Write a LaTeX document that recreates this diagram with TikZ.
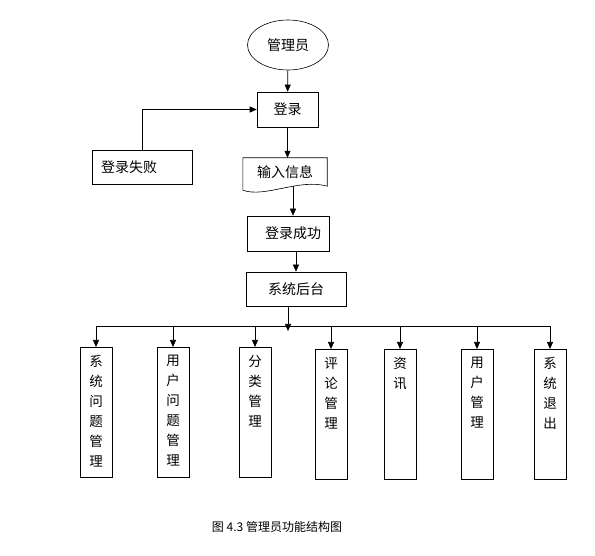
\documentclass[tikz,border=0pt]{standalone}
\usepackage{fontspec}
\setmainfont{Noto Sans CJK SC}
\usepackage{tikz}
\usetikzlibrary{shapes.geometric, arrows.meta, positioning}

% vertical text for the module boxes
\newcommand{\coltext}[1]{\parbox[c][124pt][t]{22pt}{\centering\fontsize{13.5pt}{20pt}\selectfont\vspace*{5pt}#1}}

\begin{document}
\begin{tikzpicture}[x=1pt, y=-1pt,
        flow/.style={-{Triangle[length=7pt, width=6pt]}, line width=0.6pt},
        stepbox/.style={draw, line width=0.6pt, minimum height=35pt, inner sep=0pt, font=\fontsize{14pt}{16pt}\selectfont},
        colbox/.style={draw, line width=0.6pt, anchor=north, minimum width=32pt, minimum height=130pt, inner xsep=4pt, inner ysep=3pt}]
        \useasboundingbox (0,0) rectangle (595,556);

        % Login
        \node[draw, ellipse, line width=0.6pt, minimum width=81pt, minimum height=50pt, inner sep=0pt, font=\fontsize{14pt}{16pt}\selectfont] (admin) at (288,45) {管理员};
        \node[stepbox, minimum width=61pt] (login) at (287.5,109.5) {登录};
        \node[stepbox, minimum width=100pt, minimum height=34pt, text width=82pt, inner xsep=9pt, align=left] (fail) at (142,167) {登录失败};
        \node[font=\fontsize{14pt}{16pt}\selectfont, minimum width=84pt, minimum height=28pt, inner sep=0pt] (info) at (285,172) {输入信息};
        \draw[line width=0.6pt] ([yshift=-4pt]info.south west) -- (info.north west) -- (info.north east) -- (info.south east)
            .. controls +(-28,-8) and +(22,8) .. ([yshift=-4pt]info.south west);
        \node[stepbox, minimum width=82pt] (succ) at (288,233.5) {\hspace*{10pt}登录成功};
        \node[stepbox, minimum width=100pt, minimum height=34pt] (sys) at (296,289) {系统后台};

        % Modules
        \node[colbox] (m1) at (96,347) {\coltext{系\\统\\问\\题\\管\\理}};
        \node[colbox] (m2) at (173,347) {\coltext{用\\户\\问\\题\\管\\理}};
        \node[colbox] (m3) at (255,347) {\coltext{分\\类\\管\\理}};
        \node[colbox] (m4) at (331,349) {\coltext{评\\论\\管\\理}};
        \node[colbox] (m5) at (400,349) {\coltext{资\\讯}};
        \node[colbox] (m6) at (477,349) {\coltext{用\\户\\管\\理}};
        \node[colbox] (m7) at (550,349) {\coltext{系\\统\\退\\出}};

        % Arrows login
        \draw[flow] (admin) -- (login);
        \draw[flow] (fail.north) |- (login.west);
        \draw[flow] (login) -- (login.south |- info.north);
        \draw[flow] ([xshift=8pt]info.south) -- ([xshift=8pt]info.south |- succ.north);
        \draw[flow] (succ.south -| sys) -- (sys.north);

        % Bus
        \coordinate (busL) at (96,326);
        \coordinate (busR) at (550,326);
        \coordinate (busT) at (288,331);
        \draw[line width=0.6pt] (busL) -- (busR);
        \draw[flow] ([xshift=-8pt]sys.south) -- (busT);
        \draw[flow] (busL) -- (m1.north);
        \draw[flow] (m2.north |- busL) -- (m2.north);
        \draw[flow] (m3.north |- busL) -- (m3.north);
        \draw[flow] (m4.north |- busL) -- (m4.north);
        \draw[flow] (m5.north |- busL) -- (m5.north);
        \draw[flow] (m6.north |- busL) -- (m6.north);
        \draw[flow] (busR) -- (m7.north);

        % Caption
        \node[font=\fontsize{12pt}{14pt}\selectfont] (caption) at (277,527) {图 4.3\ 管理员功能结构图};
    \end{tikzpicture}
\end{document}
